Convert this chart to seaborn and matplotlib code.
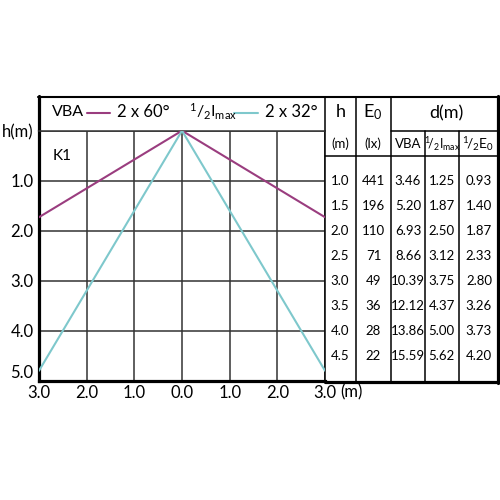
import matplotlib
matplotlib.use('Agg')
import matplotlib.pyplot as plt
import matplotlib.transforms as mtransforms
import seaborn as sns
import pandas as pd

# Beam edges: horizontal distance (m) vs height below the luminaire (m)
vba_x = [-3.0, 0.0, 3.0]
vba_h = [1.73, 0.0, 1.73]
imax_x = [-3.0, 0.0, 3.0]
imax_h = [4.80, 0.0, 4.80]

x_ticks = [-3, -2, -1, 0, 1, 2, 3]
x_labels = ['3.0', '2.0', '1.0', '0.0', '1.0', '2.0', '3.0']
y_ticks = [0, 1, 2, 3, 4, 5]
y_labels = ['h(m)', '1.0', '2.0', '3.0', '4.0', '5.0']

# Table on the right
tab_h = [1.0, 1.5, 2.0, 2.5, 3.0, 3.5, 4.0, 4.5]
tab_e0 = [441, 196, 110, 71, 49, 36, 28, 22]
tab_vba = [3.46, 5.20, 6.93, 8.66, 10.39, 12.12, 13.86, 15.59]
tab_imax = [1.25, 1.87, 2.50, 3.12, 3.75, 4.37, 5.00, 5.62]
tab_e0half = [0.93, 1.40, 1.87, 2.33, 2.80, 3.26, 3.73, 4.20]

magenta = '#9a3d7f'
cyan = '#7ec8cc'
grid_col = '#333333'

sns.set_theme(style='white')
plt.rcParams['font.family'] = ['Lato', 'DejaVu Sans']
plt.rcParams['mathtext.fontset'] = 'custom'
plt.rcParams['mathtext.rm'] = 'Lato'
plt.rcParams['mathtext.it'] = 'Lato:italic'
plt.rcParams['mathtext.bf'] = 'Lato:bold'
plt.rcParams['text.color'] = 'black'

fig = plt.figure(figsize=(5, 5), dpi=100)

# overlay in pixel units for the frame, header row and table lines
ov = fig.add_axes([0, 0, 1, 1])
ov.set_xlim(0, 500)
ov.set_ylim(500, 0)
ov.axis('off')

# main diagram
ax = fig.add_axes([39 / 500, 1 - 380.7 / 500, 286 / 500, 250 / 500])
ax.patch.set_alpha(0)

df = pd.concat([
    pd.DataFrame({'x': vba_x, 'h': vba_h, 'beam': 'VBA'}),
    pd.DataFrame({'x': imax_x, 'h': imax_h, 'beam': 'Imax'}),
])
sns.lineplot(data=df, x='x', y='h', hue='beam', palette={'VBA': magenta, 'Imax': cyan},
             sort=False, estimator=None, lw=1.5, legend=False, ax=ax, zorder=3)

ax.set_xlim(-3, 3)
ax.set_ylim(5, 0)
ax.set_xticks(x_ticks)
ax.set_xticklabels(x_labels)
ax.set_yticks(y_ticks)
ax.set_yticklabels(y_labels)
ax.set_xlabel('')
ax.set_ylabel('')
ax.grid(True, color=grid_col, lw=1.1)
ax.tick_params(length=0, labelsize=12, colors='black')
ax.tick_params(axis='x', pad=3)
ax.tick_params(axis='y', pad=4)
ax.get_yticklabels()[-1].set_va('bottom')
for s in ['left', 'bottom']:
    ax.spines[s].set_linewidth(2.3)
    ax.spines[s].set_color('black')
ax.spines['top'].set_linewidth(1.1)
ax.spines['top'].set_color(grid_col)
ax.spines['right'].set_linewidth(1.1)
ax.spines['right'].set_color('black')

ax.text(-2.72, 0.5, 'K1', fontsize=11, va='center', ha='left')
ov.text(340, 392, '(m)', fontsize=12, va='center', ha='left')

# frame and table lines
ov.plot([38, 499], [97, 97], color='black', lw=1.5)
ov.plot([39, 39], [96, 131], color='black', lw=2.3)
ov.plot([498, 498], [96, 383], color='black', lw=2.3)
ov.plot([325, 499], [381.5, 381.5], color='black', lw=2.3)
ov.plot([325, 325], [97, 131], color='black', lw=1.1)
for cx in [356, 391]:
    ov.plot([cx, cx], [97, 381], color='black', lw=1.1)
for cx in [425, 459]:
    ov.plot([cx, cx], [131, 381], color='black', lw=1.1)
ov.plot([391, 498], [131, 131], color='black', lw=1.1)
ov.plot([325, 498], [156, 156], color='black', lw=1.1)

# header legend
ov.text(52, 112, 'VBA', fontsize=11.5, va='center', ha='left')
ov.plot([87, 110], [113, 113], color=magenta, lw=1.5)
ov.text(117, 112, '2 x 60°', fontsize=12, va='center', ha='left')
ov.text(189, 112, r'$^{1}/_{2}\mathrm{I}_{\mathrm{max}}$', fontsize=11.5, va='center', ha='left')
ov.plot([234, 258], [113, 113], color=cyan, lw=1.5)
ov.text(265, 112, '2 x 32°', fontsize=12, va='center', ha='left')

# table headers
ov.text(340.5, 112, 'h', fontsize=13, va='center', ha='center')
ov.text(373, 112, r'E$_{0}$', fontsize=13, va='center', ha='center')
ov.text(446, 113, 'd(m)', fontsize=13, va='center', ha='center')
ov.text(340.5, 144, '(m)', fontsize=9.5, va='center', ha='center')
ov.text(373, 144, '(lx)', fontsize=9.5, va='center', ha='center')
ov.text(408, 144, 'VBA', fontsize=9.5, va='center', ha='center')
ov.text(442, 144, r'$^{1}\!/_{2}\mathrm{I}_{\mathrm{max}}$', fontsize=9, va='center', ha='center')
ov.text(478.5, 144, r'$^{1}\!/_{2}\mathrm{E}_{0}$', fontsize=10, va='center', ha='center')

# table rows, placed at their height on the diagram's h scale
trans = mtransforms.blended_transform_factory(ov.transData, ax.transData)
for h, e0, dv, di, de in zip(tab_h, tab_e0, tab_vba, tab_imax, tab_e0half):
    ax.text(340, h, f'{h:.1f}', transform=trans, fontsize=9.5, va='center', ha='center', clip_on=False)
    ax.text(373.5, h, f'{e0}', transform=trans, fontsize=9.5, va='center', ha='center', clip_on=False)
    ax.text(408, h, f'{dv:.2f}', transform=trans, fontsize=9.5, va='center', ha='center', clip_on=False)
    ax.text(441.5, h, f'{di:.2f}', transform=trans, fontsize=9.5, va='center', ha='center', clip_on=False)
    ax.text(479, h, f'{de:.2f}', transform=trans, fontsize=9.5, va='center', ha='center', clip_on=False)

fig.savefig('out.png', dpi=100, facecolor='white')
